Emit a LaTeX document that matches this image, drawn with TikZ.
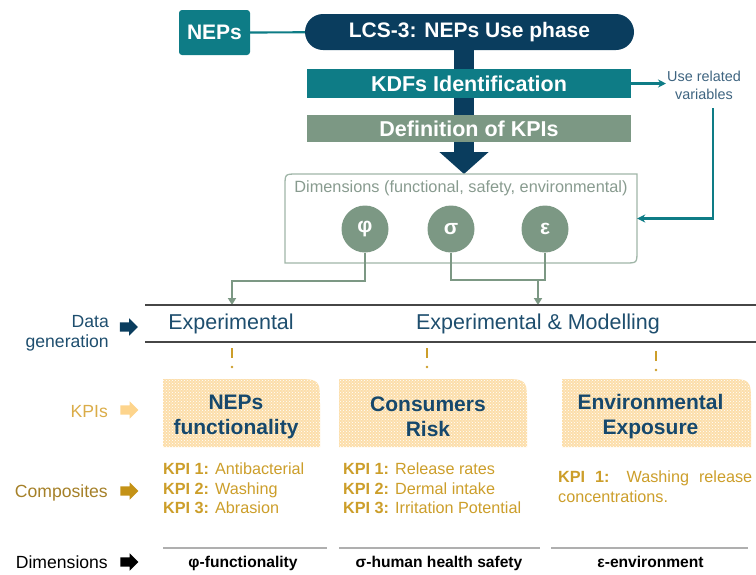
\documentclass[tikz,border=0pt]{standalone}
\usepackage{fontspec}
\setmainfont{Liberation Sans}
\usetikzlibrary{arrows.meta,shapes.arrows,patterns}

\definecolor{tealc}{RGB}{14,124,134}
\definecolor{navy}{RGB}{10,61,94}
\definecolor{sage}{RGB}{124,152,132}
\definecolor{sagelt}{RGB}{160,182,168}
\definecolor{usec}{RGB}{62,100,128}
\definecolor{titlec}{RGB}{22,72,108}
\definecolor{expc}{RGB}{30,78,110}
\definecolor{goldc}{RGB}{204,158,42}
\definecolor{kpic}{RGB}{218,172,72}
\definecolor{kpiarr}{RGB}{253,212,140}
\definecolor{compc}{RGB}{165,128,40}
\definecolor{comparr}{RGB}{196,146,22}
\definecolor{kpibg}{RGB}{252,222,170}
\definecolor{rulec}{RGB}{70,70,70}
\definecolor{footc}{RGB}{175,175,175}

\newcommand\fsz[2]{\fontsize{#1}{#2}\selectfont}

\begin{document}
\begin{tikzpicture}[x=1pt,y=-1pt,
  bar/.style={text=white,font=\fsz{21.5}{24}\bfseries,minimum width=324,inner sep=0},
  dim/.style={circle,fill=sage,text=white,font=\fsz{21}{24}\bfseries,minimum size=47,inner sep=0},
  link/.style={sage,line width=2.4},
  rule/.style={rulec,line width=1.6},
  blk/.style={single arrow,single arrow head extend=4,single arrow head indent=0,minimum height=18,inner xsep=0,inner ysep=4.5},
  side/.style={anchor=base east,align=right,inner sep=0,font=\fsz{17.6}{20}},
  kpibox/.style={fill=kpibg,postaction={pattern=crosshatch dots,pattern color=white}},
  title/.style={text=titlec,font=\fsz{21}{25}\bfseries,align=center},
  comp/.style={text=goldc,font=\fsz{16.2}{19.5},anchor=north west,align=left,inner sep=0},
  foot/.style={anchor=base,font=\fsz{15.6}{18}\bfseries}]
\useasboundingbox (0,0) rectangle (756,574);

% top: use phase and the big arrow
\node[fill=tealc,rounded corners=3,text=white,font=\fsz{21}{24}\bfseries,minimum width=71,minimum height=45,inner sep=0] (neps) at (214.5,32.5) {NEPs};
\node[fill=navy,rounded corners=18,text=white,font=\fsz{21}{24}\bfseries,minimum width=329,minimum height=36,inner sep=0] (lcs) at (469.5,32) {LCS-3: NEPs Use phase};
\draw[tealc,line width=2.2] (neps) -- (lcs);
\coordinate (dimtop) at (464,174);
\draw[navy,line width=20,-{Triangle[width=48,length=22]}] (lcs.south -| dimtop) -- (dimtop);
\node[bar,fill=tealc,minimum height=29] (kdf) at (469,83.5) {KDFs Identification};
\node[bar,fill=sage,minimum height=27] (kpidef) at (469,128.5) {Definition of KPIs};

% related variables
\node[text=usec,align=center,font=\fsz{14.4}{18},inner sep=1] (use) at (704,85) {Use related\\variables};
\draw[tealc,line width=2.2,-{Stealth[length=8,width=8]}] (kdf.east) -- (use.west |- kdf.east);

% dimensions box
\draw[sagelt,line width=1.3] (285,263) -- (285,186) .. controls (285,174) .. (297,174) -- (637,174) -- (637,251) .. controls (637,263) .. (625,263) -- cycle;
\node[minimum width=352,minimum height=89,inner sep=0] (dimbox) at (461,218.5) {};
\node[text=sagelt!85!black,font=\fsz{16.3}{19}] (dimlbl) at (461,188) {Dimensions (functional, safety, environmental)};
\node[dim] (phi) at (365,229) {φ};
\node[dim] (sig) at (451,229) {σ};
\node[dim] (eps) at (545,229) {ε};
\coordinate (usefoot) at (713,108);
\draw[tealc,line width=2.2,-{Stealth[length=8,width=8]}] (usefoot) |- (dimbox.east);

% data generation
\coordinate (expin) at (232,305);
\coordinate (join) at (538,280);
\coordinate (modin) at (538,305);
\draw[link,-{Triangle[length=7,width=8]}] (phi.south) -- ++(0,28) -| (expin);
\draw[link] (sig.south) |- (eps.south |- join) -- (eps.south);
\draw[link,-{Triangle[length=7,width=8]}] (join) -- (modin);
\draw[rule] (145,305) -- (756,305);
\draw[rule] (145,342) -- (756,342);
\node[side,text=expc] (datagen) at (109,347) {Data\\generation};
\node[blk,fill=navy] (dgarr) at (126.5,327) {};
\node[text=expc,font=\fsz{21.5}{24}] (exp) at (231,324) {Experimental};
\node[text=expc,font=\fsz{21.5}{24}] (expmod) at (538,324) {Experimental \& Modelling};
\foreach \x/\y in {232/348,427/348,656/351}{
  \draw[goldc,line width=1.8] (\x,\y) -- (\x,\y+10);
  \fill[goldc] (\x,\y+19) circle (1.3);
}

% KPI boxes
\foreach \xa/\xb in {163/320,339/527,562/751}
  \path[kpibox] (\xa,447) -- (\xa,379) -- (\xb-26,379) .. controls (\xb,379) .. (\xb,405) -- (\xb,447) -- cycle;
\node[title] (fun) at (236,417) {NEPs\\functionality};
\node[title] (risk) at (428,417) {Consumers\\Risk};
\node[title] (env) at (650.5,417) {Environmental\\Exposure};
\node[side,text=kpic] (kpilbl) at (108,417) {KPIs};
\node[blk,fill=kpiarr] (kpiarrow) at (127,410) {};

% composites
\node[comp] (funkpi) at (163,463) {\textbf{KPI 1:} Antibacterial\\\textbf{KPI 2:} Washing\\\textbf{KPI 3:} Abrasion};
\node[comp] (riskkpi) at (343,463) {\textbf{KPI 1:} Release rates\\\textbf{KPI 2:} Dermal intake\\\textbf{KPI 3:} Irritation Potential};
\node[comp,text width=194,align=justify] (envkpi) at (558,471) {\textbf{KPI 1:} Washing release concentrations.};
\node[side,text=compc] (complbl) at (108,497) {Composites};
\node[blk,fill=comparr] (comparrow) at (127,491) {};

% dimensions row
\draw[footc,line width=1.8] (163,548) -- (327,548);
\draw[footc,line width=1.8] (339,548) -- (540,548);
\draw[footc,line width=1.8] (551,548) -- (748,548);
\node[side] (dimlbl2) at (108,568) {Dimensions};
\node[blk,fill=black] (dimarrow) at (127,562) {};
\node[foot] (funfoot) at (243,567.5) {φ-functionality};
\node[foot] (riskfoot) at (439,567.5) {σ-human health safety};
\node[foot] (envfoot) at (650.5,567.5) {ε-environment};
\end{tikzpicture}
\end{document}
